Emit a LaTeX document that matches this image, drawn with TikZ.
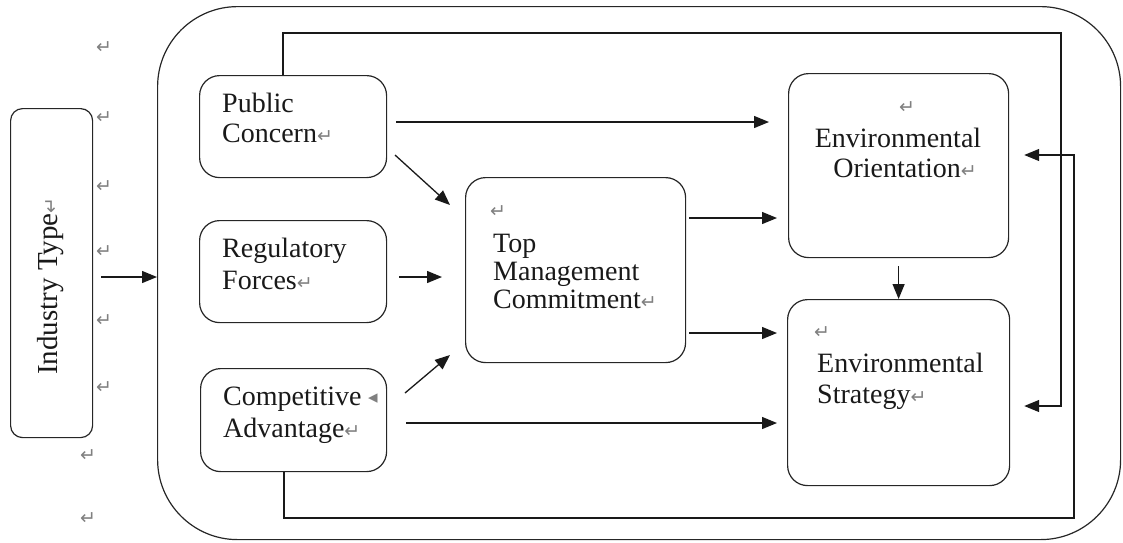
\documentclass[tikz,border=0pt]{standalone}
\usepackage{fontspec}
\setmainfont{Liberation Serif}
\newfontfamily\symf{DejaVu Sans}
\usetikzlibrary{arrows.meta}
\newcommand\rmk{{\symf\fontsize{19}{19}\selectfont\textcolor{black!50}{↵}}}
\begin{document}
\begin{tikzpicture}[x=1pt,y=-1pt,
  box/.style={draw=black!85, line width=1.2pt, rounded corners=20pt, inner sep=0pt, anchor=north west},
  txt/.style={anchor=base west, inner sep=0pt, font=\fontsize{28}{30}\selectfont, text=black!90},
  txtc/.style={txt, anchor=base},
  retmark/.style={inner sep=0pt, font=\symf\fontsize{19}{19}\selectfont, text=black!50},
  arr/.style={draw=black!90, line width=1.3pt, -{Triangle[length=15pt,width=12pt]}},
  ln/.style={draw=black!90, line width=1.3pt}]
\useasboundingbox (0,0) rectangle (1123,542);
% outer
\node[box, rounded corners=80pt, minimum width=963pt, minimum height=533pt] (outer) at (157,6) {};
% industry
\node[box, rounded corners=12pt, minimum width=82pt, minimum height=329pt] (ind) at (10,108) {};
\node[txtc, rotate=90, font=\fontsize{29}{30}\selectfont] (indt) at (57,286) {Industry Type\rmk};
% left marks
\node[retmark] (m1) at (104,48) {↵};
\node[retmark] (m2) at (104,118) {↵};
\node[retmark] (m3) at (104,187) {↵};
\node[retmark] (m4) at (104,252) {↵};
\node[retmark] (m5) at (104,321) {↵};
\node[retmark] (m6) at (104,388) {↵};
\node[retmark] (m7) at (88,456) {↵};
\node[retmark] (m8) at (88,519) {↵};
% boxes
\node[box, minimum width=187pt, minimum height=102pt] (pc) at (199,75) {};
\node[box, minimum width=187pt, minimum height=102pt] (rf) at (199,220) {};
\node[box, minimum width=186pt, minimum height=103pt] (ca) at (200,368) {};
\node[box, minimum width=220pt, minimum height=185pt] (tmc) at (465,177) {};
\node[box, minimum width=220pt, minimum height=184pt] (eo) at (788,73) {};
\node[box, minimum width=222pt, minimum height=186pt] (es) at (787,299) {};
% texts
\node[txt] (pc1) at (222,112) {Public};
\node[txt] (pc2) at (222,142) {Concern\rmk};
\node[txt] (rf1) at (222,257) {Regulatory};
\node[txt] (rf2) at (222,289) {Forces\rmk};
\node[txt] (ca1) at (223,405) {Competitive};
\node[retmark] (ca3) at (373,399) {◂};
\node[txt] (ca2) at (223,437) {Advantage\rmk};
\node[retmark] (tm0) at (498,212) {↵};
\node[txt] (tm1) at (493,252) {Top};
\node[txt] (tm2) at (493,280) {Management};
\node[txt] (tm3) at (493,308) {Commitment\rmk};
\node[retmark] (eo0) at (907,108) {↵};
\node[txtc] (eo1) at (898,147) {Environmental};
\node[txtc] (eo2) at (905,177) {Orientation\rmk};
\node[retmark] (es0) at (822,333) {↵};
\node[txt] (es1) at (817,372) {Environmental};
\node[txt] (es2) at (817,403) {Strategy\rmk};
% diagonal end points
\coordinate (d1s) at (395,155);
\coordinate (d1e) at (450,205);
\coordinate (d2s) at (405,393);
\coordinate (d2e) at (450,355);
% connectors
\draw[arr, shorten <=8pt] (ind.east |- 0,277) -- (outer.west |- 0,277);
\draw[arr, shorten <=9pt, shorten >=19pt] (pc.east |- 0,122) -- (eo.west |- 0,122);
\draw[arr] (d1s) -- (d1e);
\draw[arr, shorten <=12pt, shorten >=23pt] (rf.east |- 0,277) -- (tmc.west |- 0,277);
\draw[arr] (d2s) -- (d2e);
\draw[arr, shorten <=19pt, shorten >=10pt] (ca.east |- 0,423) -- (es.west |- 0,423);
\draw[arr, shorten <=3pt, shorten >=11pt] (tmc.east |- 0,218) -- (eo.west |- 0,218);
\draw[arr, shorten <=3pt, shorten >=10pt] (tmc.east |- 0,333) -- (es.west |- 0,333);
\draw[arr, shorten <=8pt] (eo.south) -- (es.north);
\draw[arr, shorten >=14pt] (pc.north -| 283,0) |- (1061,33) -- (1061,406) -- (es.east |- 0,406);
\draw[arr, shorten >=15pt] (ca.south -| 284,0) |- (1074,518) -- (1074,155) -- (eo.east |- 0,155);
\end{tikzpicture}
\end{document}
